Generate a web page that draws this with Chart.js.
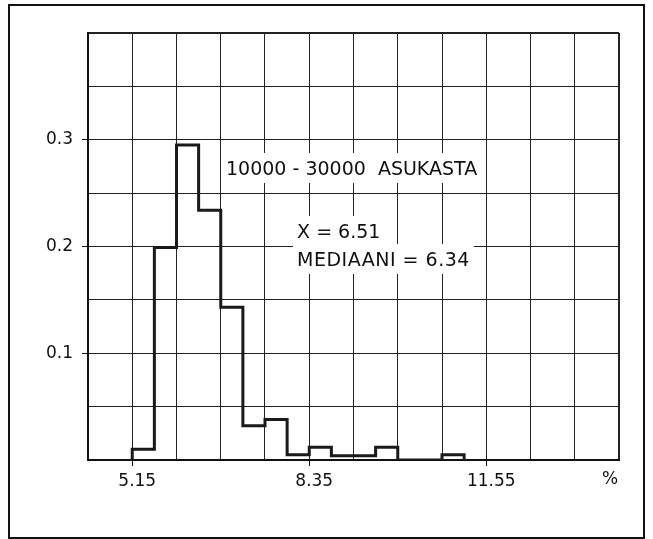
<!DOCTYPE html>
<html>
<head>
<meta charset="utf-8">
<script src="https://cdn.jsdelivr.net/npm/chart.js@4.4.1/dist/chart.umd.min.js"></script>
<style>
  html, body { margin: 0; padding: 0; background: #fff; overflow: hidden; }
  #frame { position: absolute; left: 8px; top: 4px; width: 637px; height: 535px; border: 2px solid #111; box-sizing: border-box; }
  #wrap { position: absolute; left: 0; top: 0; width: 653px; height: 539px; }
</style>
</head>
<body>
<div id="frame"></div>
<div id="wrap"><canvas id="histChart" width="653" height="539"></canvas></div>
<script>
// histogram bins (lower edge, %) and relative frequencies
const binStarts = [5.15, 5.55, 5.95, 6.35, 6.75, 7.15, 7.55, 7.95, 8.35, 8.75, 9.15, 9.55, 9.95, 10.35, 10.75];
const freq      = [0.010, 0.199, 0.295, 0.234, 0.143, 0.032, 0.038, 0.005, 0.012, 0.004, 0.004, 0.012, 0, 0, 0.005];
const binWidth = 0.4;

const xTickLabels = [5.15, 8.35, 11.55];
const yTickLabels = [0.1, 0.2, 0.3];
const xRange = [4.35, 13.95];
const yRange = [0, 0.4];

const titleText = '10000 - 30000  ASUKASTA';
const meanText = 'X = 6.51';
const medianText = 'MEDIAANI = 6.34';

// step outline points
const outline = [{ x: binStarts[0], y: 0 }];
binStarts.forEach((b, i) => outline.push({ x: b, y: freq[i] }));
outline.push({ x: binStarts[binStarts.length - 1] + binWidth, y: 0 });

const near = (v, list) => list.find(t => Math.abs(t - v) < 1e-6);

const textFont = '19px "DejaVu Sans"';

// white-backed labels on the grid
const notes = {
    id: 'notes',
    beforeDatasetsDraw(chart) {
        const ctx = chart.ctx;
        const xs = chart.scales.x, ys = chart.scales.y;
        const items = [
            { t: titleText, x: 6.845, y: 0.2717, sp: '0px' },
            { t: meanText, x: 8.13, y: 0.2127, sp: '0px' },
            { t: medianText, x: 8.13, y: 0.1864, sp: '0.5px' }
        ];
        ctx.save();
        ctx.font = textFont;
        ctx.textBaseline = 'middle';
        ctx.textAlign = 'left';
        items.forEach(it => {
            ctx.letterSpacing = it.sp;
            const px = xs.getPixelForValue(it.x);
            const py = ys.getPixelForValue(it.y);
            const w = ctx.measureText(it.t).width;
            ctx.fillStyle = '#fff';
            ctx.fillRect(px - 4, py - 17, w + 8, 30);
        });
        ctx.fillStyle = '#111';
        items.forEach(it => {
            ctx.letterSpacing = it.sp;
            ctx.fillText(it.t, xs.getPixelForValue(it.x), ys.getPixelForValue(it.y));
        });
        ctx.letterSpacing = '0px';
        // unit label at the end of the x axis
        ctx.font = '17px "DejaVu Sans"';
        ctx.textAlign = 'center';
        ctx.fillText('%', xs.right - 9, chart.chartArea.bottom + 20);
        ctx.restore();
    }
};

new Chart(document.getElementById('histChart'), {
    type: 'line',
    data: {
        datasets: [{
            data: outline,
            stepped: true,
            borderColor: '#1a1a1a',
            borderWidth: 3,
            pointRadius: 0,
            fill: false,
            borderJoinStyle: 'miter'
        }]
    },
    options: {
        responsive: false,
        animation: false,
        layout: { padding: { left: 0, top: 33, right: 34, bottom: 0 } },
        plugins: { legend: { display: false }, tooltip: { enabled: false } },
        scales: {
            x: {
                type: 'linear',
                min: xRange[0],
                max: xRange[1],
                afterFit: s => { s.height = 79; },
                border: { width: 2, color: '#111' },
                grid: {
                    color: '#222',
                    lineWidth: c => (c.index === 12 ? 2 : 1),
                    tickLength: 6,
                    tickColor: c => (c.tick && near(c.tick.value, xTickLabels) ? '#111' : 'rgba(0,0,0,0)')
                },
                ticks: {
                    stepSize: 0.8,
                    maxTicksLimit: 20,
                    autoSkip: false,
                    maxRotation: 0,
                    padding: 5,
                    labelOffset: 5,
                    color: '#111',
                    font: { family: 'DejaVu Sans', size: 17 },
                    callback: v => { const t = near(v, xTickLabels); return t ? t.toFixed(2) : ''; }
                }
            },
            y: {
                min: yRange[0],
                max: yRange[1],
                afterFit: s => { s.width = 88; },
                border: { width: 2, color: '#111' },
                grid: {
                    color: '#222',
                    lineWidth: c => (c.index === 8 ? 2 : 1),
                    tickLength: 6,
                    tickColor: c => (c.tick && near(c.tick.value, yTickLabels) ? '#111' : 'rgba(0,0,0,0)')
                },
                ticks: {
                    stepSize: 0.05,
                    autoSkip: false,
                    padding: 9,
                    color: '#111',
                    font: { family: 'DejaVu Sans', size: 17 },
                    callback: v => { const t = near(v, yTickLabels); return t ? t.toFixed(1) : ''; }
                }
            }
        }
    },
    plugins: [notes]
});
</script>
</body>
</html>
